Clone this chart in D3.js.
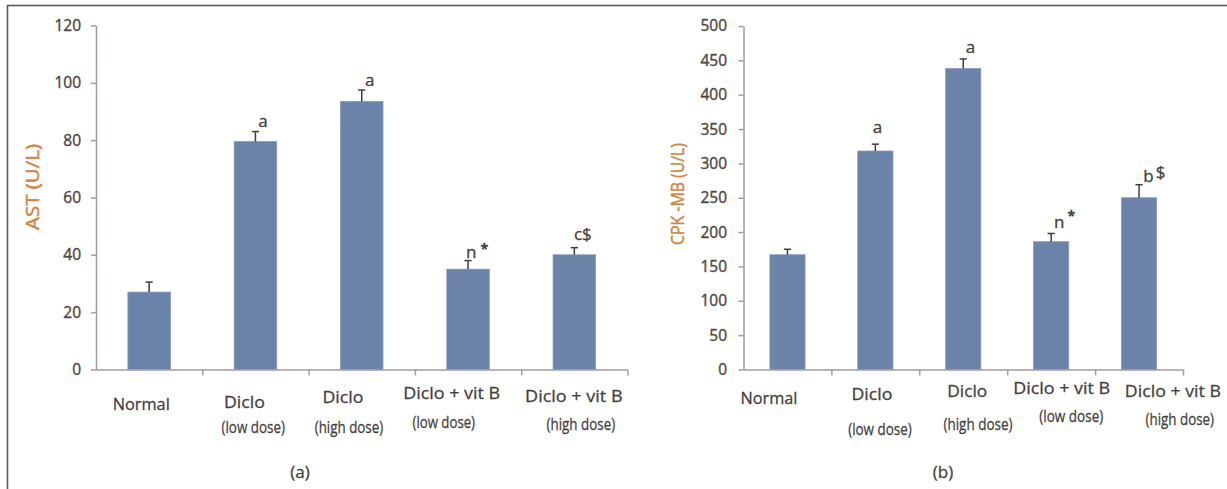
<!DOCTYPE html>
<html>
<head>
<meta charset="utf-8">
<script src="https://cdn.jsdelivr.net/npm/d3@7"></script>
<style>
  body { margin: 0; background: #fff; }
  svg { display: block; }
  text { font-family: "Open Sans", sans-serif; font-weight: 400; }
</style>
</head>
<body>
<svg id="chart" width="1227" height="489"></svg>
<script>
// ---- data ----------------------------------------------------------------
const groupNames = ["Normal", "Diclo", "Diclo", "Diclo + vit B", "Diclo + vit B"];
const groupDoses = ["", "(low dose)", "(high dose)", "(low dose)", "(high dose)"];

// Panel (a): AST, U/L
const astMean  = [27, 79.5, 93.5, 35, 40];
const astErr   = [3.5, 3.5, 4, 3, 2.5];
const astMarks = ["", "a", "a", "n*", "c$"];
const astTicks = [0, 20, 40, 60, 80, 100, 120];

// Panel (b): CPK-MB, U/L
const cpkMean  = [167, 318, 438, 186, 250];
const cpkErr   = [8, 10, 14, 12, 19];
const cpkMarks = ["", "a", "a", "n*", "b$"];
const cpkTicks = [0, 50, 100, 150, 200, 250, 300, 350, 400, 450, 500];

// ---- styling ---------------------------------------------------------------
const BAR = "#6b83a8", BAR_EDGE = "#8397b9";
const AXIS = "#a39d99", TICK_TXT = "#4e4845", LABEL = "#433f3d";
const TITLE = "#cf8747", ERR = "#3d3d3d";

const svg = d3.select("#chart");

// slightly heavier strokes on text
const thicken = (sel, color, w) => sel.attr("stroke", color).attr("stroke-width", w).attr("paint-order", "stroke");

// outer frame (left and top edges visible)
svg.append("rect")
  .attr("x", 7.5).attr("y", 5.5)
  .attr("width", 1240).attr("height", 500)
  .attr("fill", "none").attr("stroke", "#5a5a5a").attr("stroke-width", 1.6);

const panels = [
  {
    mean: astMean, err: astErr, marks: astMarks, ticks: astTicks, max: 120,
    x0: 96, x1: 627.5, yTop: 25.5, yBase: 369.5, tickPad: 10,
    title: "AST (U/L)", titleX: 38.5, titleY: 187, titleLen: 86,
    caption: "(a)", captionX: 300,
    // category label placement: [dx, baseline, length]
    names: [[-7.9, 409.5, 57], [-11, 407.5, 41], [-18.8, 403, 41], [-16.4, 398.5, 97], [-0.5, 401.5, 97.5]],
    doses: [null, [-2.2, 433, 63.5], [-12.8, 433, 68.5], [-24.3, 428, 62.5], [6.5, 430, 68.5]],
    // significance mark placement: [dx start, dy from error top, symbol dx, symbol dy]
    markPos: [null, [2.9, -5, 0, 0], [3.3, -3.6, 0, 0], [-2, -2.4, 4, -4], [-0.4, -7.7, 0, 0]]
  },
  {
    mean: cpkMean, err: cpkErr, marks: cpkMarks, ticks: cpkTicks, max: 500,
    x0: 743.5, x1: 1183, yTop: 26, yBase: 369.5, tickPad: 11.5,
    title: "CPK -MB (U/L)", titleX: 683.5, titleY: 194, titleLen: 102,
    caption: "(b)", captionX: 943,
    names: [[-18.5, 403.5, 57], [-3.4, 400, 41], [4, 396.5, 40], [10.5, 394, 97], [33.8, 396.5, 96]],
    doses: [null, [4.6, 435, 63.5], [14.7, 430, 69], [20.1, 421.5, 64], [40.7, 425, 68.5]],
    markPos: [null, [-2.6, -10.7, 0, 0], [2.4, -6.3, 0, 0], [2.8, -5, 3, -7], [4.2, -2.6, 2, -4.5]]
  }
];

panels.forEach(p => {
  const g = svg.append("g");

  const x = d3.scaleBand()
    .domain(d3.range(p.mean.length))
    .range([p.x0, p.x1])
    .paddingInner(0.6)
    .paddingOuter(0.3);

  const y = d3.scaleLinear().domain([0, p.max]).range([p.yBase, p.yTop]);

  // category boundaries for the x-axis ticks
  const xb = d3.scaleLinear().domain([0, p.mean.length]).range([p.x0, p.x1]);
  const center = i => x(i) + x.bandwidth() / 2;

  // bars
  g.selectAll("rect.bar")
    .data(p.mean)
    .join("rect")
    .attr("class", "bar")
    .attr("x", (d, i) => x(i))
    .attr("y", d => y(d))
    .attr("width", x.bandwidth())
    .attr("height", d => y(0) - y(d))
    .attr("fill", BAR)
    .attr("stroke", BAR_EDGE)
    .attr("stroke-width", 0.8);

  // y axis
  const yAxis = g.append("g")
    .attr("transform", `translate(${p.x0},0)`)
    .call(d3.axisLeft(y).tickValues(p.ticks).tickSize(5).tickSizeOuter(0).tickPadding(p.tickPad));
  yAxis.select(".domain").attr("stroke", AXIS).attr("stroke-width", 1.5);
  yAxis.selectAll(".tick line").attr("stroke", AXIS).attr("stroke-width", 1.5);
  yAxis.selectAll(".tick text")
    .attr("fill", TICK_TXT)
    .style("font-family", '"Open Sans", sans-serif')
    .style("font-size", "15.5px")
    .call(thicken, TICK_TXT, 0.4);

  // x axis
  const xAxis = g.append("g")
    .attr("transform", `translate(0,${p.yBase})`)
    .call(d3.axisBottom(xb).tickValues(d3.range(1, p.mean.length + 1)).tickSize(6).tickSizeOuter(0).tickFormat(""));
  xAxis.select(".domain").attr("stroke", AXIS).attr("stroke-width", 1.5);
  xAxis.selectAll(".tick line").attr("stroke", AXIS).attr("stroke-width", 1.5);

  // error bars (upper whisker with cap)
  const eb = g.selectAll("g.err")
    .data(p.mean.map((m, i) => ({ m, e: p.err[i], i })))
    .join("g").attr("class", "err");
  eb.append("line")
    .attr("x1", d => center(d.i)).attr("x2", d => center(d.i))
    .attr("y1", d => y(d.m)).attr("y2", d => y(d.m + d.e))
    .attr("stroke", ERR).attr("stroke-width", 1.5);
  eb.append("line")
    .attr("x1", d => center(d.i) - 3.6).attr("x2", d => center(d.i) + 3.6)
    .attr("y1", d => y(d.m + d.e)).attr("y2", d => y(d.m + d.e))
    .attr("stroke", ERR).attr("stroke-width", 1.5);

  // significance marks
  p.marks.forEach((mk, i) => {
    if (!mk) return;
    const pos = p.markPos[i];
    const t = g.append("text")
      .attr("x", center(i) + pos[0])
      .attr("y", y(p.mean[i] + p.err[i]) + pos[1])
      .attr("fill", LABEL)
      .style("font-size", "17px")
      .call(thicken, LABEL, 0.3);
    t.append("tspan").text(mk[0]);
    if (mk.length > 1) {
      t.append("tspan")
        .attr("dx", pos[2]).attr("dy", pos[3])
        .style("font-size", mk[1] === "*" ? "14px" : "17px")
        .style("font-weight", mk[1] === "*" ? "700" : "400")
        .text(mk.slice(1));
    }
  });

  // category labels
  groupNames.forEach((name, i) => {
    const n = p.names[i];
    g.append("text")
      .attr("x", center(i) + n[0]).attr("y", n[1])
      .attr("text-anchor", "middle")
      .attr("fill", LABEL)
      .attr("textLength", n[2]).attr("lengthAdjust", "spacingAndGlyphs")
      .style("font-size", "17px")
      .call(thicken, LABEL, 0.3)
      .text(name);
    const d = p.doses[i];
    if (d && groupDoses[i]) {
      g.append("text")
        .attr("x", center(i) + d[0]).attr("y", d[1])
        .attr("text-anchor", "middle")
        .attr("fill", LABEL)
        .attr("textLength", d[2]).attr("lengthAdjust", "spacingAndGlyphs")
        .style("font-size", "17px")
        .call(thicken, LABEL, 0.3)
        .text(groupDoses[i]);
    }
  });

  // y-axis title
  g.append("text")
    .attr("transform", `translate(${p.titleX},${p.titleY}) rotate(-90)`)
    .attr("text-anchor", "middle")
    .attr("fill", TITLE)
    .attr("textLength", p.titleLen).attr("lengthAdjust", "spacingAndGlyphs")
    .style("font-size", "17.5px")
    .call(thicken, TITLE, 0.5)
    .text(p.title);

  // panel caption
  g.append("text")
    .attr("x", p.captionX).attr("y", 478)
    .attr("text-anchor", "middle")
    .attr("fill", LABEL)
    .style("font-size", "17px")
    .call(thicken, LABEL, 0.3)
    .text(p.caption);
});
</script>
</body>
</html>
